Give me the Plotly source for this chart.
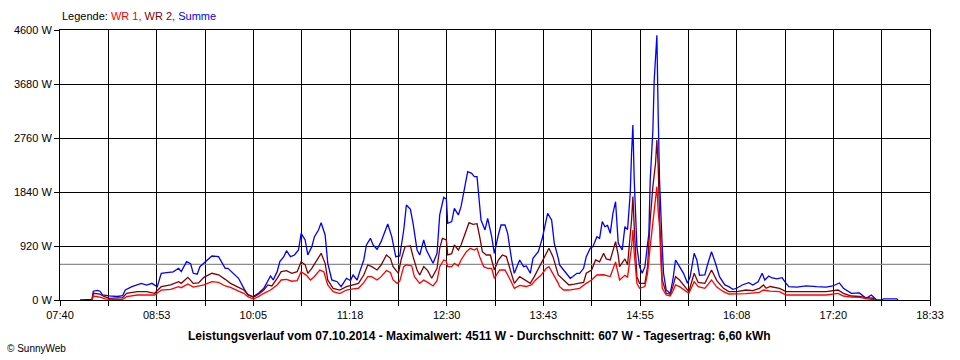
import plotly.graph_objects as go

# ---------------- data ----------------
summe_t = ["07:55","08:04","08:05","08:08","08:10","08:12","08:17","08:23","08:27","08:29",
           "08:34","08:38","08:41","08:45","08:49","08:53","08:56","09:00","09:05","09:09",
           "09:11","09:15","09:18","09:20","09:23","09:25","09:29","09:34","09:39","09:41",
           "09:44","09:46","09:50","09:54","09:58","10:01","10:05","10:09","10:13","10:15",
           "10:18","10:20","10:23","10:25","10:28","10:30","10:33","10:36","10:39","10:41",
           "10:44","10:46","10:49","10:51","10:54","10:56","10:59","11:01","11:04","11:08",
           "11:11","11:15","11:18","11:20","11:23","11:25","11:28","11:30","11:33","11:35",
           "11:38","11:41","11:44","11:46","11:49","11:50","11:52","11:55","11:58","12:00",
           "12:03","12:05","12:08","12:10","12:13","12:15","12:18","12:20","12:23","12:25",
           "12:28","12:30","12:31","12:34","12:36","12:39","12:41","12:44","12:46","12:49",
           "12:51","12:53","12:54","12:56","12:59","13:01","13:04","13:06","13:09","13:11",
           "13:14","13:16","13:19","13:21","13:25","13:28","13:30","13:33","13:35","13:39",
           "13:42","13:44","13:46","13:49","13:51","13:54","13:55","13:58","14:00","14:03",
           "14:05","14:08","14:10","14:13","14:15","14:18","14:20","14:23","14:25","14:27",
           "14:29","14:31","14:33","14:35","14:37","14:38","14:39","14:42","14:44","14:46",
           "14:48","14:49","14:50","14:51","14:53","14:55","14:57","14:59","15:02","15:03",
           "15:05","15:06","15:07","15:08","15:09","15:10","15:12","15:13","15:15","15:18",
           "15:20","15:22","15:25","15:28","15:31","15:33","15:36","15:38","15:40","15:44",
           "15:46","15:49","15:52","15:55","15:59","16:02","16:05","16:08","16:12","16:17",
           "16:20","16:24","16:27","16:29","16:32","16:34","16:38","16:42","16:44","16:47",
           "16:53","17:00","17:08","17:15","17:20","17:25","17:28","17:34","17:40","17:45",
           "17:49","17:52","17:53","17:57","17:58","18:08","18:09"]
summe_w = [0,10,150,165,150,85,70,60,75,170,
           227,256,284,255,284,227,455,466,480,540,
           483,653,620,455,440,568,653,750,740,653,
           540,540,455,370,199,85,57,114,199,284,
           409,341,483,653,738,840,738,767,852,1136,
           1022,767,909,1079,1193,1317,1108,625,341,312,
           227,370,330,426,341,483,682,937,1051,937,
           864,994,1164,1295,1079,966,738,750,1193,1619,
           1545,1306,852,767,1022,852,710,625,795,1449,
           1750,1720,1306,1335,1562,1449,1590,1931,2187,2159,
           2102,2102,1818,1363,1193,1392,1079,795,1108,1278,
           1278,1136,682,455,682,568,580,455,710,823,
           1051,1278,1477,1363,966,710,596,511,455,370,
           400,455,455,540,738,881,909,1079,1050,1335,
           1249,1270,1136,1477,1675,1363,966,852,1249,1200,
           1818,2500,2982,2045,909,568,455,568,1136,2045,
           2897,3749,4146,4511,3124,2045,909,455,170,114,
           341,682,568,455,284,400,795,682,420,426,
           600,823,625,398,256,227,182,200,256,295,
           256,312,455,341,409,380,360,380,312,227,
           220,239,227,220,239,290,200,114,120,28,
           85,10,0,0,20,20,0]

wr2_t = ["08:04","08:05","08:10","08:13","08:17","08:23","08:27","08:30","08:38","08:45",
         "08:51","08:56","09:03","09:09","09:11","09:16","09:20","09:24","09:28","09:34",
         "09:39","09:44","09:48","09:54","09:58","10:01","10:05","10:09","10:13","10:16",
         "10:19","10:23","10:26","10:30","10:34","10:38","10:41","10:44","10:46","10:49",
         "10:53","10:56","10:59","11:01","11:05","11:10","11:15","11:20","11:24","11:28",
         "11:31","11:34","11:38","11:41","11:45","11:48","11:50","11:54","11:56","11:59",
         "12:03","12:05","12:08","12:10","12:13","12:16","12:19","12:23","12:25","12:27",
         "12:30","12:31","12:34","12:36","12:39","12:41","12:44","12:47","12:50","12:53",
         "12:55","12:57","13:00","13:03","13:06","13:09","13:12","13:15","13:18","13:21",
         "13:25","13:29","13:33","13:36","13:40","13:44","13:47","13:50","13:54","13:58",
         "14:02","14:06","14:10","14:13","14:15","14:19","14:22","14:25","14:28","14:30",
         "14:33","14:37","14:39","14:40","14:44","14:46","14:49","14:50","14:51","14:53",
         "14:55","14:59","15:01","15:03","15:05","15:07","15:08","15:09","15:10","15:11",
         "15:12","15:15","15:18","15:20","15:22","15:25","15:29","15:32","15:36","15:39",
         "15:44","15:49","15:53","15:58","16:02","16:08","16:15","16:20","16:25","16:28",
         "16:30","16:33","16:40","16:45","16:55","17:05","17:15","17:24","17:28","17:34",
         "17:40","17:45","17:50","17:53"]
wr2_w = [0,114,100,60,28,30,40,114,142,142,
         114,227,256,312,284,386,284,290,386,455,
         430,352,284,216,170,97,45,100,170,256,
         240,370,483,500,455,483,653,600,455,540,
         682,795,625,341,199,170,227,256,284,426,
         596,568,511,596,767,710,568,455,682,909,
         920,738,511,426,568,500,370,540,880,1051,
         1022,767,790,937,852,937,1136,1317,1290,1300,
         1079,823,767,767,511,682,767,740,511,284,
         398,341,284,398,568,738,881,738,426,341,
         256,270,280,300,455,511,682,650,795,700,
         682,994,760,568,700,600,1363,1761,1250,398,
         284,284,568,1363,1931,2329,2726,2272,1400,700,
         341,114,100,227,398,340,227,142,455,300,
         284,511,330,199,142,142,170,160,199,256,
         199,230,199,142,142,142,142,170,114,68,
         60,40,30,0]

wr1_t = ["08:04","08:05","08:10","08:14","08:17","08:27","08:30","08:38","08:51","08:56",
         "09:03","09:09","09:11","09:16","09:20","09:28","09:34","09:39","09:44","09:48",
         "09:54","09:58","10:01","10:05","10:09","10:13","10:18","10:23","10:26","10:30",
         "10:34","10:38","10:41","10:45","10:48","10:51","10:55","10:58","11:01","11:05",
         "11:10","11:15","11:20","11:24","11:28","11:31","11:34","11:38","11:41","11:45",
         "11:48","11:50","11:53","11:55","11:58","12:00","12:04","12:06","12:10","12:13",
         "12:16","12:20","12:23","12:25","12:28","12:30","12:31","12:34","12:36","12:39",
         "12:41","12:45","12:48","12:51","12:53","12:55","12:58","13:01","13:04","13:06",
         "13:10","13:14","13:18","13:21","13:25","13:30","13:34","13:37","13:41","13:45",
         "13:47","13:50","13:54","13:55","13:58","14:02","14:10","14:15","14:19","14:23",
         "14:28","14:33","14:37","14:40","14:44","14:46","14:49","14:50","14:51","14:53",
         "14:55","14:59","15:01","15:03","15:05","15:07","15:08","15:09","15:10","15:11",
         "15:12","15:15","15:18","15:20","15:22","15:25","15:29","15:32","15:36","15:39",
         "15:44","15:49","15:53","15:58","16:02","16:08","16:15","16:25","16:28","16:33",
         "16:40","16:45","16:55","17:15","17:24","17:28","17:34","17:40","17:45","17:52"]
wr1_w = [0,68,50,20,12,12,57,85,85,170,
         182,227,210,273,220,256,312,300,239,216,
         150,114,57,17,57,114,170,256,341,350,
         320,330,483,420,341,400,511,480,256,142,
         110,170,190,200,295,398,398,341,398,500,
         470,341,284,320,568,600,580,398,284,340,
         300,239,330,568,682,660,568,568,625,580,
         682,823,881,852,881,738,568,540,540,370,
         511,511,341,199,250,230,260,341,420,540,
         568,455,284,227,170,170,199,284,341,426,
         430,400,650,341,420,390,909,1193,800,284,
         200,230,455,909,1363,1704,1931,1500,1249,682,
         200,85,70,150,256,227,170,114,312,227,
         199,341,220,142,102,102,110,130,170,150,
         142,85,85,85,114,68,50,45,25,0]

average_w = 607
x_tick_labels = ["07:40", "08:53", "10:05", "11:18", "12:30", "13:43",
                 "14:55", "16:08", "17:20", "18:33"]
y_tick_values = [0, 920, 1840, 2760, 3680, 4600]
y_tick_labels = ["0 W", "920 W", "1840 W", "2760 W", "3680 W", "4600 W"]
title_text = ("Leistungsverlauf vom 07.10.2014 - Maximalwert: 4511 W - "
              "Durchschnitt: 607 W - Tagesertrag: 6,60 kWh")

# ---------------- helpers ----------------
def to_min(s):
    h, m = s.split(":")
    return int(h) * 60 + int(m)

x_start = to_min(x_tick_labels[0])
x_end = to_min(x_tick_labels[-1])
n_int = 18
tickvals = [x_start + i * (x_end - x_start) / n_int for i in range(n_int + 1)]
ticktext = [x_tick_labels[i // 2] if i % 2 == 0 else "" for i in range(n_int + 1)]

FONT = "Liberation Sans, Arial, sans-serif"
C_WR1 = "#ff0000"
C_WR2 = "#800000"
C_SUM = "#0000ff"

fig = go.Figure()
fig.add_trace(go.Scatter(x=[x_start, x_end], y=[average_w, average_w], mode="lines",
                         line=dict(color="#8c8c8c", width=1.2), hoverinfo="skip"))
fig.add_trace(go.Scatter(x=[to_min(t) for t in summe_t], y=summe_w, mode="lines",
                         line=dict(color=C_SUM, width=1.3), name="Summe"))
fig.add_trace(go.Scatter(x=[to_min(t) for t in wr2_t], y=wr2_w, mode="lines",
                         line=dict(color=C_WR2, width=1.3), name="WR 2"))
fig.add_trace(go.Scatter(x=[to_min(t) for t in wr1_t], y=wr1_w, mode="lines",
                         line=dict(color=C_WR1, width=1.3), name="WR 1"))

fig.update_layout(
    width=960, height=360,
    margin=dict(l=60, r=30, t=30, b=60),
    paper_bgcolor="white", plot_bgcolor="white",
    showlegend=False,
    font=dict(family=FONT, size=11, color="black"),
    xaxis=dict(range=[x_start, x_end], tickmode="array", tickvals=tickvals,
               ticktext=ticktext, showgrid=True, gridcolor="black", gridwidth=1,
               ticks="outside", ticklen=5, tickcolor="black", tickwidth=1,
               showline=True, linecolor="black", linewidth=1, mirror=True,
               zeroline=False, tickfont=dict(family=FONT, size=11, color="black")),
    yaxis=dict(range=[0, 4600], tickmode="array", tickvals=y_tick_values,
               ticktext=y_tick_labels, showgrid=True, gridcolor="black", gridwidth=1,
               ticks="outside", ticklen=5, tickcolor="black", tickwidth=1,
               showline=True, linecolor="black", linewidth=1, mirror=True,
               zeroline=False, tickfont=dict(family=FONT, size=11, color="black")),
    annotations=[
        dict(xref="paper", yref="paper", x=0, y=1, yshift=14, xanchor="left",
             yanchor="middle", showarrow=False,
             text=("Legende: <span style='color:" + C_WR1 + "'>WR 1,</span> "
                   "<span style='color:" + C_WR2 + "'>WR 2,</span> "
                   "<span style='color:" + C_SUM + "'>Summe</span>"),
             font=dict(family=FONT, size=11, color="black")),
        dict(xref="paper", yref="paper", x=(479 - 60) / 870, y=(300 - 336) / 270,
             xanchor="center", yanchor="middle", showarrow=False,
             text="<b>" + title_text + "</b>",
             font=dict(family=FONT, size=12, color="black")),
        dict(xref="paper", yref="paper", x=-55 / 870, y=(300 - 348) / 270,
             xanchor="left", yanchor="middle", showarrow=False,
             text="© SunnyWeb", font=dict(family=FONT, size=10, color="black")),
    ],
)

fig.write_html("out.html", config={"displayModeBar": False},
               post_script="document.body.style.margin='0';document.body.style.overflow='hidden';")
